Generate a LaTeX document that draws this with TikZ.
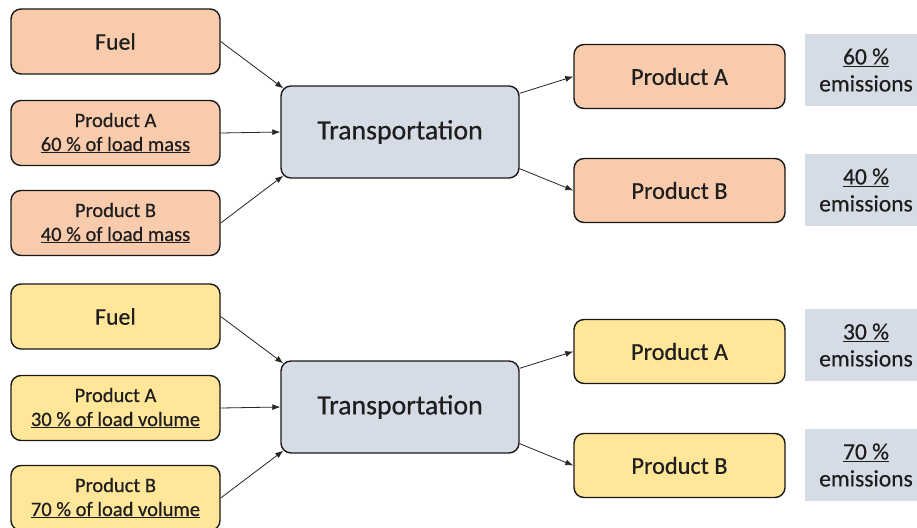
\documentclass[tikz,border=0pt]{standalone}
\usepackage{fontspec}
\setmainfont{Carlito}[FakeBold=0.5]
\usetikzlibrary{arrows.meta}
\definecolor{orangefill}{HTML}{F8CBAD}
\definecolor{yellowfill}{HTML}{FFE699}
\definecolor{bluefill}{HTML}{D6DCE5}
\definecolor{txt}{HTML}{1E1E1E}
\begin{document}
\begin{tikzpicture}[x=1pt,y=-1pt,
  box/.style={draw=black!90, line width=1.4pt, rounded corners=10pt, align=center, text=txt, inner sep=0pt},
  obox/.style={box, fill=orangefill},
  ybox/.style={box, fill=yellowfill},
  inbox/.style={minimum width=209pt, minimum height=65pt},
  outbox/.style={minimum width=211pt, minimum height=64pt, font=\fontsize{24.3}{28}\selectfont},
  fuelfont/.style={font=\fontsize{23.8}{28}\selectfont},
  smallfont/.style={font=\fontsize{20.5}{24}\selectfont},
  trbox/.style={box, fill=bluefill, minimum width=238pt, minimum height=92pt, font=\fontsize{27.8}{32}\selectfont},
  embox/.style={fill=bluefill, minimum width=122pt, minimum height=72pt, align=center, text=txt, font=\fontsize{23.5}{27}\selectfont, inner sep=0pt},
  arr/.style={draw=black!85, line width=0.8pt, -{Latex[length=8pt,width=6pt]}}
]
\useasboundingbox (0,0) rectangle (917,527);
\fill[white] (0,0) rectangle (917,527);

% ---------- top group ----------
\node[obox, inbox, fuelfont] (f1) at (115.5,41.5) {Fuel};
\node[obox, inbox, smallfont] (a1) at (115.5,133) {Product A\\\underline{60 \% of load mass}};
\node[obox, inbox, smallfont] (b1) at (115.5,223) {Product B\\\underline{40 \% of load mass}};
\node[trbox] (t1) at (400,132) {Transportation};
\node[obox, outbox] (pa1) at (679.5,76.5) {Product A};
\node[obox, outbox] (pb1) at (679.5,190.5) {Product B};
\node[embox] (e1) at (866,70) {\underline{60 \%}\\emissions};
\node[embox] (e2) at (866,190) {\underline{40 \%}\\emissions};

\draw[arr] (f1.east) -- ([shift={(3pt,-3pt)}]t1.north west);
\draw[arr] (a1.east) -- (t1.west);
\draw[arr] (b1.east) -- ([shift={(3pt,3pt)}]t1.south west);
\draw[arr] ([yshift=-8pt]t1.north east) -- (pa1.west);
\draw[arr] ([yshift=10pt]t1.south east) -- (pb1.west);

% ---------- bottom group ----------
\node[ybox, inbox, fuelfont] (f2) at (115.5,316.5) {Fuel};
\node[ybox, inbox, smallfont] (a2) at (115.5,408) {Product A\\\underline{30 \% of load volume}};
\node[ybox, inbox, smallfont] (b2) at (115.5,498) {Product B\\\underline{70 \% of load volume}};
\node[trbox] (t2) at (400,407) {Transportation};
\node[ybox, outbox] (pa2) at (679.5,351.5) {Product A};
\node[ybox, outbox] (pb2) at (679.5,465.5) {Product B};
\node[embox] (e3) at (866,345) {\underline{30 \%}\\emissions};
\node[embox] (e4) at (866,465) {\underline{70 \%}\\emissions};

\draw[arr] (f2.east) -- ([shift={(3pt,-3pt)}]t2.north west);
\draw[arr] (a2.east) -- (t2.west);
\draw[arr] (b2.east) -- ([shift={(3pt,3pt)}]t2.south west);
\draw[arr] ([yshift=-8pt]t2.north east) -- (pa2.west);
\draw[arr] ([yshift=10pt]t2.south east) -- (pb2.west);
\end{tikzpicture}
\end{document}
